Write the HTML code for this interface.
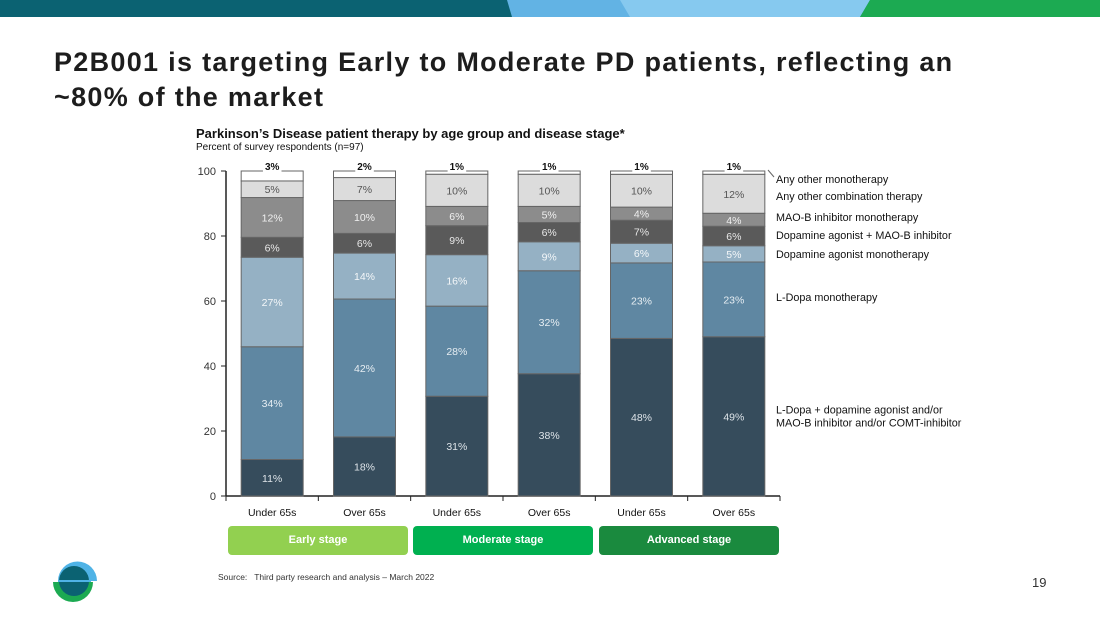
<!DOCTYPE html>
<html><head><meta charset="utf-8"><style>
body{margin:0;width:1100px;height:619px;overflow:hidden;background:#fff;font-family:"Liberation Sans",sans-serif;position:relative}
.abs{position:absolute}
</style></head><body>
<svg class="abs" style="left:0;top:0" width="1100" height="17">
<rect x="0" y="0" width="1100" height="17" fill="#0b6272"/>
<polygon points="507,0 870,0 860,17 512,17" fill="#62b3e4"/>
<polygon points="620,0 870,0 860,17 630,17" fill="#86c9ef"/>
<polygon points="870,0 1100,0 1100,17 860,17" fill="#1caa52"/>
</svg>
<div class="abs" style="left:54px;top:45px;font-size:27px;font-weight:bold;color:#1d1d1d;line-height:35px;letter-spacing:1.3px">P2B001 is targeting Early to Moderate PD patients, reflecting an<br>~80% of the market</div>
<div class="abs" style="left:196px;top:126px;font-size:13px;font-weight:bold;color:#111">Parkinson’s Disease patient therapy by age group and disease stage*</div>
<div class="abs" style="left:196px;top:142px;font-size:10px;color:#111">Percent of survey respondents (n=97)</div>
<svg id="chart" class="abs" style="left:0;top:0" width="1100" height="619"></svg>
<div class="abs" style="left:228px;top:526px;width:180px;height:29px;background:#92d050;border-radius:4px;color:#fff;font-size:11px;font-weight:bold;text-align:center;line-height:29px">Early stage</div>
<div class="abs" style="left:413px;top:526px;width:180px;height:29px;background:#00b050;border-radius:4px;color:#fff;font-size:11px;font-weight:bold;text-align:center;line-height:29px">Moderate stage</div>
<div class="abs" style="left:599px;top:526px;width:180px;height:29px;background:#1a8a3e;border-radius:4px;color:#fff;font-size:11px;font-weight:bold;text-align:center;line-height:29px">Advanced stage</div>
<div class="abs" style="left:218px;top:572px;font-size:8.5px;color:#333">Source:&nbsp;&nbsp; Third party research and analysis – March 2022</div>
<div class="abs" style="left:1032px;top:575px;font-size:13px;color:#333">19</div>
<svg class="abs" style="left:50px;top:559px" width="50" height="50">
<path d="M8,22 A19,19 0 0 1 47,22 Z" fill="#4fb3e6"/>
<path d="M3,23 A20,20 0 0 0 43,23 Z" fill="#1caa52"/>
<circle cx="24" cy="22" r="15" fill="#0b6272"/>
<rect x="8" y="21" width="33" height="2" fill="#4fb3e6"/>
</svg>
<script>
const categories=["Under 65s","Over 65s","Under 65s","Over 65s","Under 65s","Over 65s"];
const seriesNames=["L-Dopa + dopamine agonist and/or|MAO-B inhibitor and/or COMT-inhibitor","L-Dopa monotherapy","Dopamine agonist monotherapy","Dopamine agonist + MAO-B inhibitor","MAO-B inhibitor monotherapy","Any other combination therapy","Any other monotherapy"];
const ldopaCombo=[11,18,31,38,48,49];
const ldopaMono=[34,42,28,32,23,23];
const daMono=[27,14,16,9,6,5];
const daMao=[6,6,9,6,7,6];
const maoMono=[12,10,6,5,4,4];
const otherCombo=[5,7,10,10,10,12];
const otherMono=[3,2,1,1,1,1];
const yTicks=[0,20,40,60,80,100];
const series=[ldopaCombo,ldopaMono,daMono,daMao,maoMono,otherCombo,otherMono];
const colors=["#364c5c","#5f87a2","#95b1c4","#5a5a5a","#8c8c8c","#dcdcdc","#ffffff"];
const textColors=["#dde3e8","#e6edf2","#f4f7f9","#e8e8e8","#f0f0f0","#555","#111"];
const legendY=[416,297,254,235,217,196,179];
const svg=document.getElementById('chart');
const NS="http://www.w3.org/2000/svg";
const x0=226,x1=780,yB=496,yT=171;
const y=v=>yB-(yT-yB)*-v/100;
const band=(x1-x0)/categories.length;
const bw=62;
function mk(t,a){const e=document.createElementNS(NS,t);for(const k in a)e.setAttribute(k,a[k]);svg.appendChild(e);return e;}
let ax=mk('line',{x1:x0,y1:yT,x2:x0,y2:yB,stroke:'#222','stroke-width':1.5});


let bx=mk('line',{x1:x0,y1:yB,x2:x1,y2:yB,stroke:'#222','stroke-width':1.5});


yTicks.forEach(t=>{
  const l=mk('line',{x1:x0-5,y1:y(t),x2:x0,y2:y(t),stroke:'#222'});
  
  
  const tx=mk('text',{x:x0-10,y:y(t)+4,'text-anchor':'end','font-size':11,fill:'#333'});
  tx.textContent=t;
  
  
});
for(let i=0;i<=categories.length;i++){
  const l=mk('line',{x1:x0+i*band,y1:yB,x2:x0+i*band,y2:yB+5,stroke:'#222'});
  
  
}
categories.forEach((c,i)=>{
  const cx=x0+band*(i+0.5);
  const tx=mk('text',{x:cx,y:yB+20,'text-anchor':'middle','font-size':10.5,fill:'#111'});
  tx.textContent=c;
  
  
  const tot=series.reduce((s,a)=>s+a[i],0);
  let cum=0;
  series.forEach((a,s)=>{
    const v=a[i]*100/tot;
    const yt=y(cum+v),yb=y(cum);
    const r=mk('rect',{x:cx-bw/2,y:yt,width:bw,height:yb-yt,fill:colors[s],stroke:'#666','stroke-width':1});
    
    
    const lab=mk('text',{x:cx,y:s==6?yt-1:(yt+yb)/2+4,'text-anchor':'middle','font-size':s==6?10:10.5,'font-weight':s==6?'bold':'normal',fill:textColors[s]});
    lab.textContent=a[i]+'%';
    
    
    if(s==6){
      const bb=lab.getBBox();
      const bg=mk('rect',{x:bb.x-2,y:bb.y,width:bb.width+4,height:bb.height,fill:'#fff'});
      
      
      svg.appendChild(lab);
    }
    cum+=v;
  });
});
const lk=mk('line',{x1:768,y1:170,x2:774,y2:177,stroke:'#666'});


seriesNames.forEach((n,s)=>{
  const parts=n.split('|');
  parts.forEach((p,j)=>{
    const t=mk('text',{x:776,y:legendY[s]-(parts.length-1)*6.5+j*13+4,'font-size':10.8,fill:'#111'});
    t.textContent=p;
    
    
  });
});
</script>
</body></html>
